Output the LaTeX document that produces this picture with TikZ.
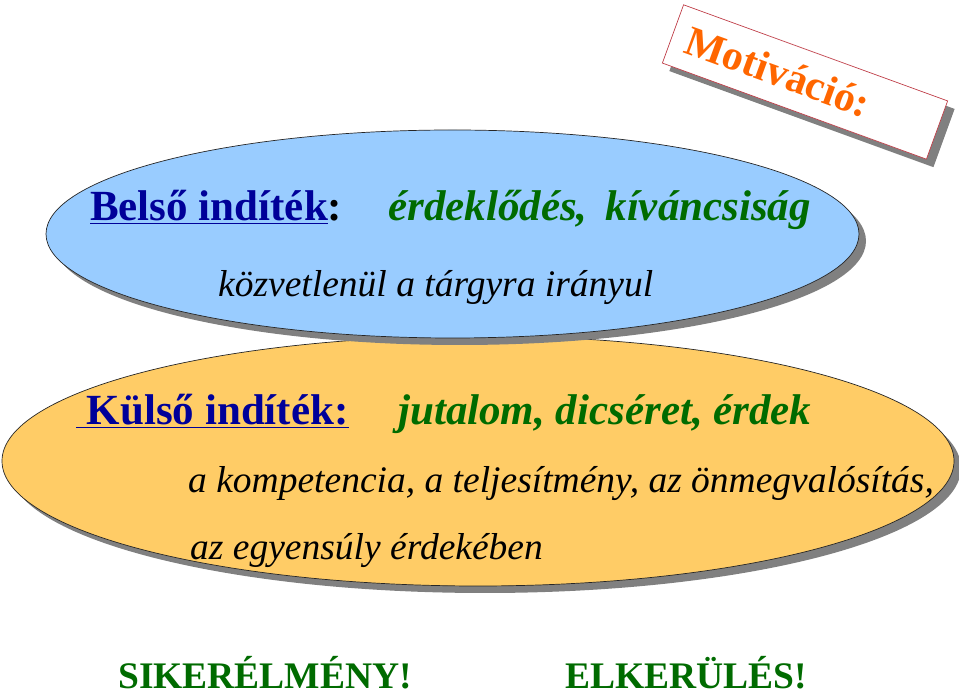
\documentclass[tikz,border=0pt]{standalone}
\usepackage{fontspec}
\setmainfont{Liberation Serif}
\usetikzlibrary{shapes.geometric,shadows}
\definecolor{navyt}{HTML}{000099}
\definecolor{greent}{HTML}{006B00}
\definecolor{bluefill}{HTML}{99CCFF}
\definecolor{orangefill}{HTML}{FFCC66}
\definecolor{shadowgray}{HTML}{808080}
\definecolor{boxred}{HTML}{C0404A}
\definecolor{motivorange}{HTML}{FF6600}
\tikzset{
  oval/.style={ellipse, inner sep=0pt, draw=black!85, line width=0.7pt,
    drop shadow={shadow xshift=7pt, shadow yshift=-7pt, fill=shadowgray, opacity=1}},
  txt/.style={anchor=base west, inner sep=0pt},
  bigb/.style={font=\fontsize{43}{50}\selectfont\bfseries},
  bigbi/.style={font=\fontsize{43}{50}\selectfont\bfseries\itshape, text=greent},
  midi/.style={font=\fontsize{37.5}{44}\selectfont\itshape, text=black},
  botb/.style={font=\fontsize{37.5}{44}\selectfont\bfseries, text=greent},
}
\begin{document}
\begin{tikzpicture}[x=1pt,y=1pt]
\useasboundingbox (0,0) rectangle (959,696);
% ellipses
\node[oval, fill=orangefill, minimum width=952pt, minimum height=250pt] (kulso) at (478,235) {};
\node[oval, fill=bluefill, minimum width=813pt, minimum height=208pt] (belso) at (452.5,462) {};
% Motivacio box
\node[rectangle, fill=shadowgray, minimum width=281pt, minimum height=62pt, rotate=-20, inner sep=0pt] (motivsh) at (812,606) {};
\node[rectangle, fill=white, draw=boxred, line width=0.7pt, minimum width=281pt, minimum height=62pt, rotate=-20, inner sep=0pt] (motiv) at (805,614) {};
\node[txt, rotate=-20, font=\fontsize{42}{48}\selectfont\bfseries, text=motivorange] (motivtxt) at (682,644) {Motiváció:};
% Belso
\node[txt, bigb, text=navyt] (belsolabel) at (90,475) {\underline{Belső indíték}\textcolor{black}{:}};
\node[txt, bigbi] (belsoval) at (388,475) {érdeklődés,\, kíváncsiság};
\node[txt, midi] (belsodesc) at (218,399) {közvetlenül a tárgyra irányul};
% Kulso
\node[txt, bigb, text=navyt] (kulsolabel) at (76,271) {\underline{\ Külső indíték:}};
\node[txt, bigbi] (kulsoval) at (398,271) {jutalom, dicséret, érdek};
\node[txt, midi] (kulsodesc1) at (188,203) {a kompetencia, a teljesítmény, az önmegvalósítás,};
\node[txt, midi] (kulsodesc2) at (190,136) {az egyensúly érdekében};
% bottom
\node[txt, botb] (siker) at (118,7) {SIKERÉLMÉNY!};
\node[txt, botb] (elker) at (565,7) {ELKERÜLÉS!};
\end{tikzpicture}
\end{document}
